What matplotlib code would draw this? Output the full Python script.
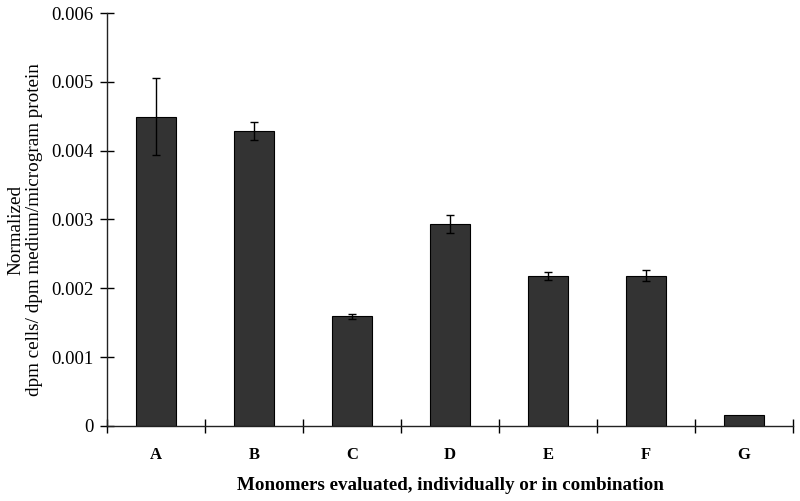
import matplotlib
matplotlib.use("Agg")
import matplotlib.pyplot as plt
from matplotlib.ticker import FixedLocator, FixedFormatter

categories = ["A", "B", "C", "D", "E", "F", "G"]
values = [0.00449, 0.00428, 0.00159, 0.00294, 0.00218, 0.00218, 0.000156]
errors = [0.00056, 0.00013, 0.00003, 0.00013, 0.00006, 0.00008, 0.0]
ytick_vals = [0, 0.001, 0.002, 0.003, 0.004, 0.005, 0.006]
ytick_labels = ["0", "0.001", "0.002", "0.003", "0.004", "0.005", "0.006"]

plt.rcParams['font.family'] = ['Liberation Serif', 'DejaVu Serif']

fig = plt.figure(figsize=(8, 5.01), dpi=100)
ax = fig.add_axes([0.134, 0.150, 0.857, 0.824])

x = list(range(len(categories)))
ax.bar(x, values, width=0.41, color="#333333", edgecolor="black", linewidth=0.8, zorder=2)
ax.errorbar(x[:-1], values[:-1], yerr=errors[:-1], fmt="none", ecolor="black",
            elinewidth=1.0, capsize=3, capthick=1.0, zorder=3)

ax.set_xlim(-0.5, len(categories) - 0.5)
ax.set_ylim(0, 0.006)

for s in ["top", "right"]:
    ax.spines[s].set_visible(False)
for s in ["left", "bottom"]:
    ax.spines[s].set_linewidth(1.0)
    ax.spines[s].set_color("#222222")

ax.yaxis.set_major_locator(FixedLocator(ytick_vals))
ax.yaxis.set_major_formatter(FixedFormatter(ytick_labels))
ax.tick_params(axis="y", direction="inout", length=10, width=1.0, labelsize=13.5, pad=5)

ax.set_xticks([i - 0.5 for i in range(len(categories) + 1)])
ax.set_xticklabels([])
ax.set_xticks(x, minor=True)
ax.set_xticklabels(categories, minor=True, fontweight="bold", fontsize=12)
ax.tick_params(axis="x", which="major", direction="inout", length=10, width=1.0)
ax.tick_params(axis="x", which="minor", length=0, pad=15)

ax.set_xlabel("Monomers evaluated, individually or in combination", fontsize=13.7,
              fontweight="bold", labelpad=10)
ax.set_ylabel("Normalized\ndpm cells/ dpm medium/microgram protein", fontsize=13.8,
              linespacing=1.15)
ax.yaxis.set_label_coords(-0.093, 0.475)

fig.savefig("out.png", dpi=100)
